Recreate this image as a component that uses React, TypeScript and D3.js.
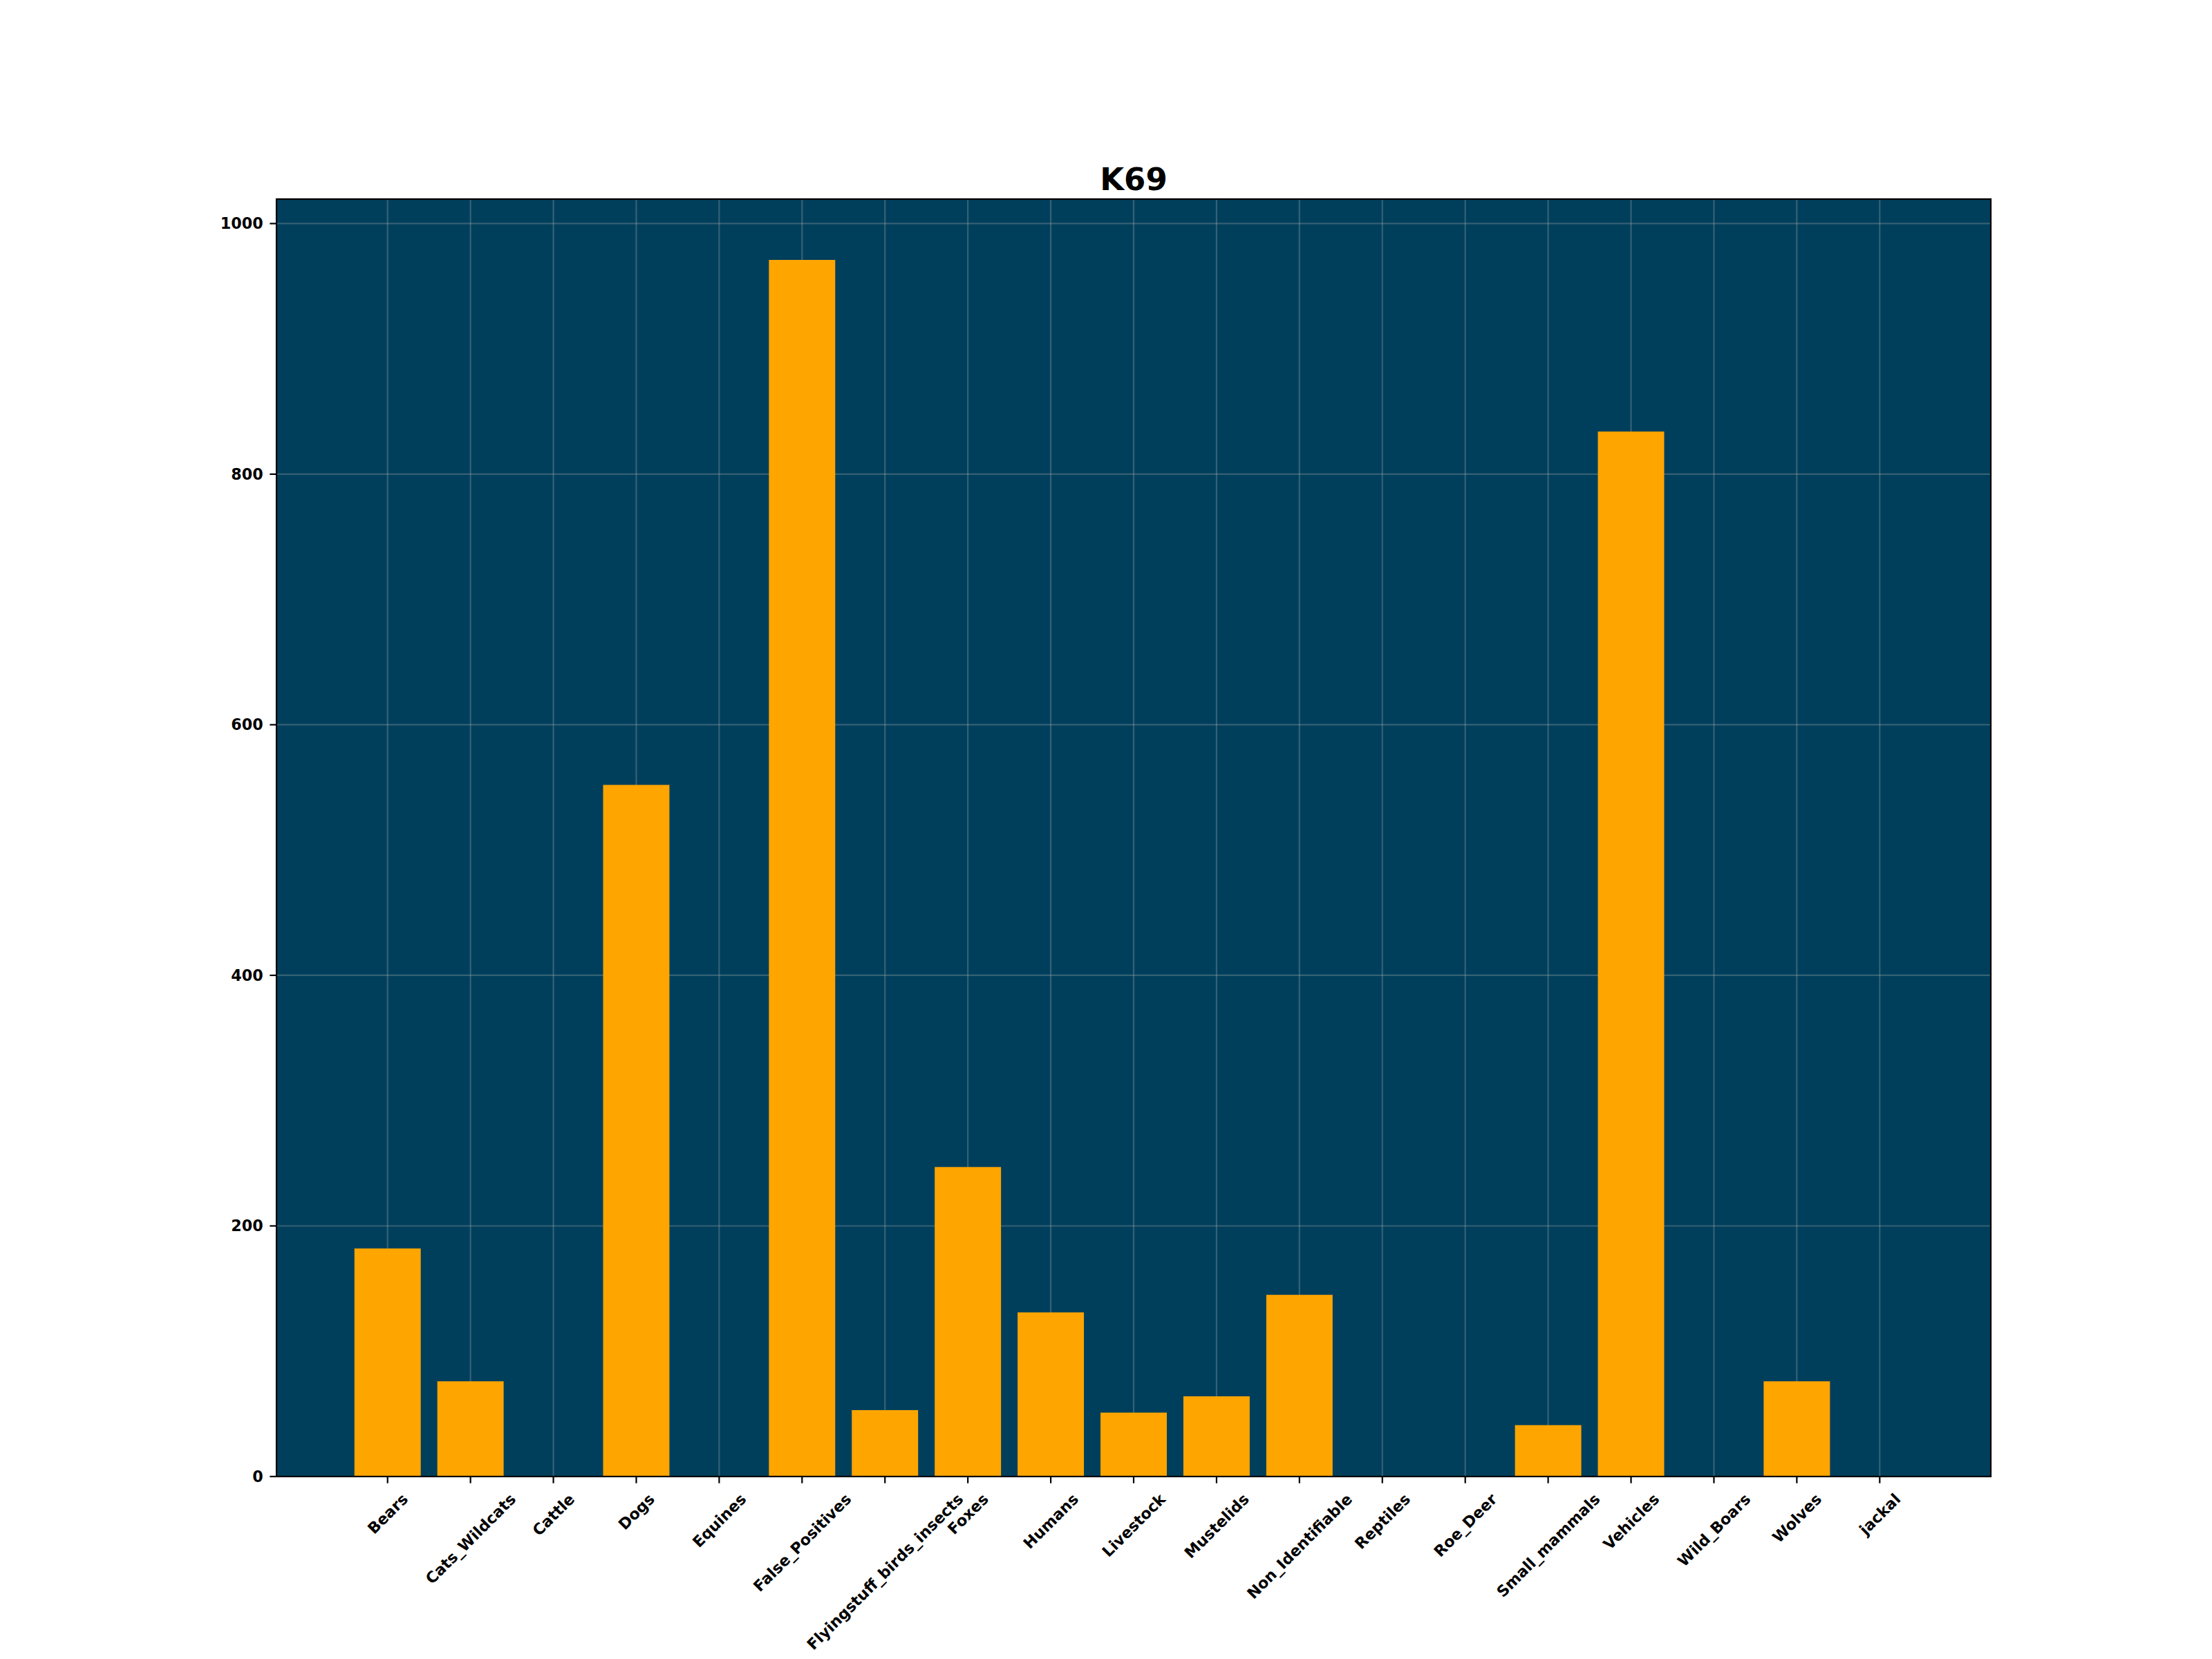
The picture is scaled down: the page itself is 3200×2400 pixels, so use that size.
import React, { useEffect, useRef } from "react";
import * as d3 from "d3";

const categories: string[] = [
  "Bears", "Cats_Wildcats", "Cattle", "Dogs", "Equines", "False_Positives",
  "Flyingstuff_birds_insects", "Foxes", "Humans", "Livestock", "Mustelids",
  "Non_Identifiable", "Reptiles", "Roe_Deer", "Small_mammals", "Vehicles",
  "Wild_Boars", "Wolves", "jackal",
];
const counts: number[] = [182, 76, 0, 552, 0, 971, 53, 247, 131, 51, 64, 145, 0, 0, 41, 834, 0, 76, 0];
const yTicks: number[] = [0, 200, 400, 600, 800, 1000];
const title = "K69";

const W = 3200;
const H = 2400;
const M = { left: 400, right: 2880, top: 288, bottom: 2136 };
const FONT = "'DejaVu Sans', sans-serif";
const BG = "#003f5c";
const BAR = "#ffa500";

export default function App() {
  const ref = useRef<SVGSVGElement | null>(null);

  useEffect(() => {
    const svg = d3.select(ref.current);
    svg.selectAll("*").remove();

    const n = categories.length;
    const barW = 0.8;
    const lo = -barW / 2;
    const hi = n - 1 + barW / 2;
    const pad = (hi - lo) * 0.05;
    const x = d3.scaleLinear().domain([lo - pad, hi + pad]).range([M.left, M.right]);
    const yMax = (d3.max(counts) as number) * 1.05;
    const y = d3.scaleLinear().domain([0, yMax]).range([M.bottom, M.top]);

    svg.append("rect").attr("x", 0).attr("y", 0).attr("width", W).attr("height", H).attr("fill", "#ffffff");
    svg.append("rect")
      .attr("x", M.left).attr("y", M.top)
      .attr("width", M.right - M.left).attr("height", M.bottom - M.top)
      .attr("fill", BG);

    // grid
    const grid = svg.append("g").attr("stroke", "#b0b0b0").attr("stroke-opacity", 0.3).attr("stroke-width", 2.2);
    categories.forEach((_, i) => {
      grid.append("line").attr("x1", x(i)).attr("x2", x(i)).attr("y1", M.top).attr("y2", M.bottom);
    });
    yTicks.forEach((t) => {
      grid.append("line").attr("x1", M.left).attr("x2", M.right).attr("y1", y(t)).attr("y2", y(t));
    });

    // bars
    svg.append("g").selectAll("rect").data(counts).join("rect")
      .attr("x", (_, i) => x(i - barW / 2))
      .attr("width", (_, i) => x(i + barW / 2) - x(i - barW / 2))
      .attr("y", (d) => y(d))
      .attr("height", (d) => y(0) - y(d))
      .attr("fill", BAR);

    // spines
    svg.append("rect")
      .attr("x", M.left).attr("y", M.top)
      .attr("width", M.right - M.left).attr("height", M.bottom - M.top)
      .attr("fill", "none").attr("stroke", "#000").attr("stroke-width", 2.2);

    const tickLen = 9.7;
    const tickPad = 9.7;
    const fs = 22.2;

    // y ticks
    const yg = svg.append("g");
    yTicks.forEach((t) => {
      yg.append("line").attr("x1", M.left - tickLen).attr("x2", M.left).attr("y1", y(t)).attr("y2", y(t))
        .attr("stroke", "#000").attr("stroke-width", 2.2);
      yg.append("text").attr("x", M.left - tickLen - tickPad).attr("y", y(t))
        .attr("text-anchor", "end").attr("dominant-baseline", "central")
        .attr("font-family", FONT).attr("font-weight", "bold").attr("font-size", fs)
        .attr("fill", "#000").text(String(t));
    });

    // x ticks
    const xg = svg.append("g");
    const top0 = M.bottom + tickLen + tickPad;
    const lineH = fs * 1.17;
    categories.forEach((c, i) => {
      xg.append("line").attr("x1", x(i)).attr("x2", x(i)).attr("y1", M.bottom).attr("y2", M.bottom + tickLen)
        .attr("stroke", "#000").attr("stroke-width", 2.2);
      const t = xg.append("text")
        .attr("text-anchor", "middle").attr("dominant-baseline", "central")
        .attr("font-family", FONT).attr("font-weight", "bold").attr("font-size", fs)
        .attr("fill", "#000").text(c);
      const w = (t.node() as SVGTextElement).getComputedTextLength();
      const half = (w + lineH) / (2 * Math.SQRT2);
      t.attr("transform", `translate(${x(i)},${top0 + half}) rotate(-45)`);
    });

    // title
    svg.append("text").attr("x", (M.left + M.right) / 2).attr("y", 275)
      .attr("text-anchor", "middle")
      .attr("font-family", FONT).attr("font-weight", "bold").attr("font-size", 45)
      .attr("fill", "#000").text(title);
  }, []);

  return (
    <svg
      ref={ref}
      width={W}
      height={H}
      style={{ position: "absolute", left: 0, top: 0, display: "block" }}
    />
  );
}
